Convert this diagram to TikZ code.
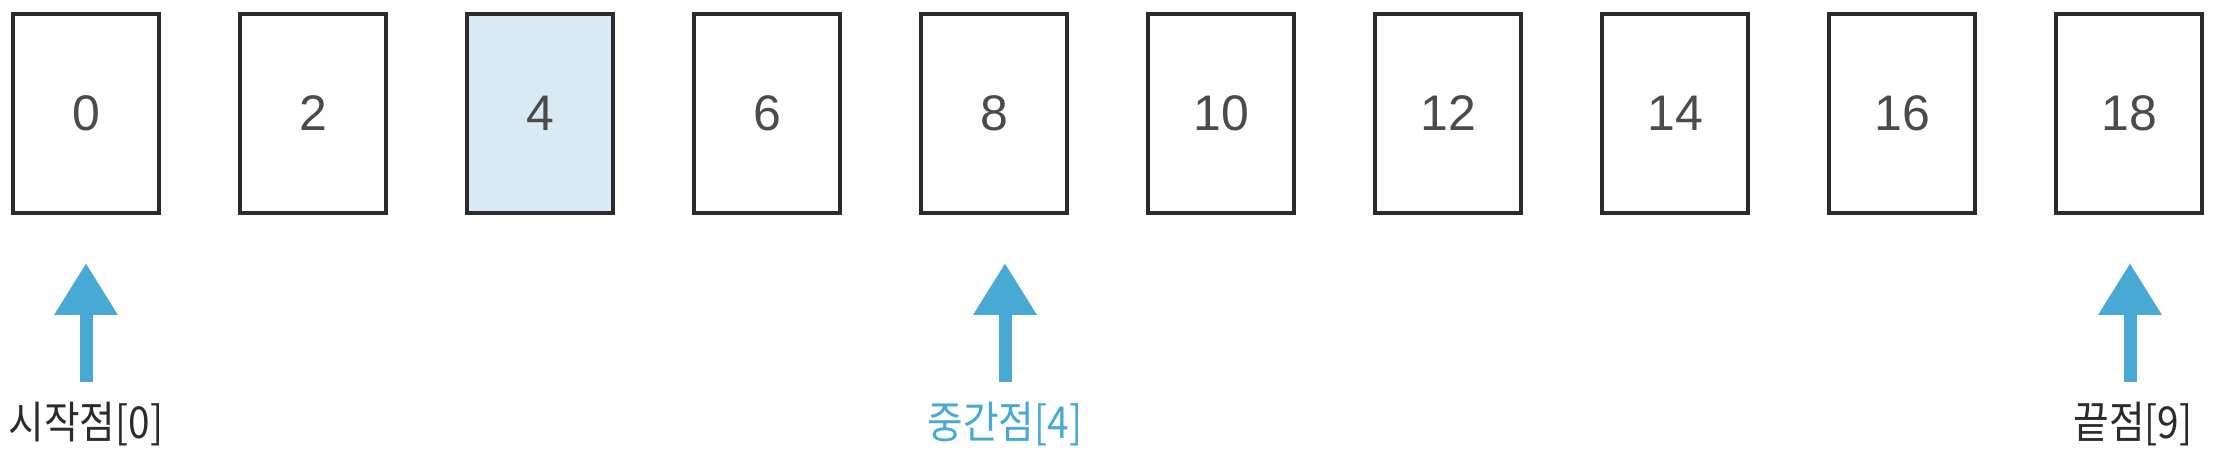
\documentclass[tikz,border=0pt]{standalone}
\usepackage{fontspec}
\setmainfont{Liberation Sans}
\newfontfamily\krfont{Noto Sans CJK KR}
\usetikzlibrary{arrows.meta}
\definecolor{arrowblue}{HTML}{47A9D4}
\definecolor{cellfill}{HTML}{D9EAF4}
\definecolor{inkdark}{HTML}{2B2B2B}
\tikzset{
  cell/.style={draw=inkdark, line width=3.4pt, minimum width=146pt, minimum height=199pt,
    inner sep=0pt, font=\fontsize{50}{50}\selectfont, text=inkdark!85},
  ptr/.style={draw=arrowblue, line width=13pt,
    -{Triangle[width=60pt,length=52pt]}, arrowblue},
  ptrlabel/.style={font=\krfont\fontsize{44}{44}\selectfont, inner sep=0pt, xscale=0.88},
}
\begin{document}
\begin{tikzpicture}[x=1pt,y=-1pt]
\useasboundingbox (0,0) rectangle (2222,454);
\foreach \v [count=\i from 0] in {0,2,4,6,8,10,12,14,16,18} {
  \ifnum\i=2
    \node[cell, fill=cellfill] (c\i) at (86+227*\i,113.5) {\v};
  \else
    \node[cell, fill=white] (c\i) at (86+227*\i,113.5) {\v};
  \fi
}
% arrows
\coordinate (s0) at (86,382);  \coordinate (t0) at (86,263);
\coordinate (s4) at (1005,382); \coordinate (t4) at (1005,263);
\coordinate (s9) at (2130,382); \coordinate (t9) at (2130,263);
\draw[ptr] (s0) -- (t0);
\draw[ptr] (s4) -- (t4);
\draw[ptr] (s9) -- (t9);
\node[ptrlabel, text=inkdark] (l0) at (86,424) {시작점[0]};
\node[ptrlabel, text=arrowblue] (l4) at (1005,424) {중간점[4]};
\node[ptrlabel, text=inkdark] (l9) at (2133,424) {끝점[9]};
\end{tikzpicture}
\end{document}
